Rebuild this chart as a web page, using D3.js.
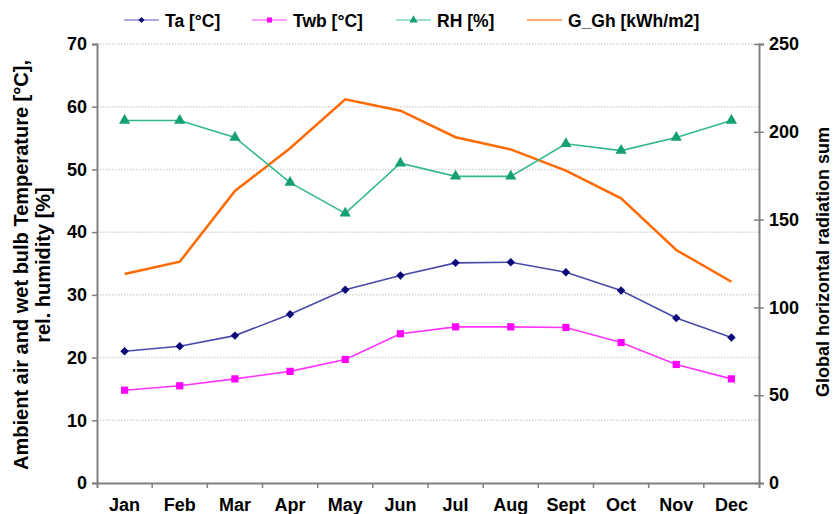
<!DOCTYPE html>
<html><head><meta charset="utf-8">
<script src="https://cdn.jsdelivr.net/npm/d3@7"></script>
<style>body{margin:0;background:#fff}svg{font-family:"Liberation Sans",Arial,sans-serif}</style>
</head><body><svg id="c" width="834" height="514"></svg>
<script>
const months = ["Jan","Feb","Mar","Apr","May","Jun","Jul","Aug","Sept","Oct","Nov","Dec"];
const ta  = [21.0,21.8,23.5,26.9,30.8,33.1,35.1,35.2,33.6,30.7,26.3,23.2];
const twb = [14.8,15.5,16.6,17.8,19.7,23.8,24.9,24.9,24.8,22.4,18.9,16.6];
const rh  = [57.8,57.8,55.1,47.9,43.0,51.0,48.9,48.9,54.1,53.0,55.1,57.8];
const ggh = [119.0,126.0,166.3,190.6,218.5,212.0,196.9,190.0,177.9,162.1,132.7,114.6];
const leftTicks = [0,10,20,30,40,50,60,70];
const rightTicks = [0,50,100,150,200,250];

const svg = d3.select("#c");
const L=97, R=759, T=44, B=483;
const x = d3.scaleBand().domain(months).range([L,R]);
const yL = d3.scaleLinear().domain([0,70]).range([B,T]);
const yR = d3.scaleLinear().domain([0,250]).range([B,T]);
const cx = m => x(m)+x.bandwidth()/2;

// gridlines
svg.append("g").selectAll("line").data(leftTicks.filter(d=>d>0)).join("line")
  .attr("x1",L).attr("x2",R).attr("y1",d=>yL(d)).attr("y2",d=>yL(d))
  .attr("stroke","#d4d4d4").attr("stroke-width",1.5).attr("stroke-dasharray","1.5,1.5");

// axes
const axL = svg.append("g").attr("transform",`translate(${L},0)`)
  .call(d3.axisLeft(yL).tickValues(leftTicks).tickSize(5).tickPadding(5));
const axR = svg.append("g").attr("transform",`translate(${R},0)`)
  .call(d3.axisRight(yR).tickValues(rightTicks).tickSize(5).tickPadding(5));
axR.selectAll(".tick line").attr("x1",-5);
const axB = svg.append("g").attr("transform",`translate(0,${B})`)
  .call(d3.axisBottom(x).tickSize(5).tickPadding(10));
axB.selectAll(".tick line").remove();
axB.selectAll("line.bt").data(months.slice(1)).join("line").attr("class","bt")
  .attr("x1",d=>x(d)).attr("x2",d=>x(d)).attr("y1",0).attr("y2",5).attr("stroke","#808080").attr("stroke-width",1.5);
[axL,axR,axB].forEach(a=>{
  a.select(".domain").attr("stroke","#808080").attr("stroke-width",2);
  a.selectAll(".tick line").attr("stroke","#808080").attr("stroke-width",1.5);
  a.selectAll("text").attr("font-size",18).attr("font-weight","bold").attr("fill","#000")
   .attr("font-family","'Liberation Sans',Arial,sans-serif");
});

// lines
const line = (arr,sc)=> d3.line().x((d,i)=>cx(months[i])).y(d=>sc(d))(arr);
svg.append("path").attr("d",line(ggh,yR)).attr("fill","none").attr("stroke","#ff6a00").attr("stroke-width",2.5);
svg.append("path").attr("d",line(rh,yL)).attr("fill","none").attr("stroke","#33b88a").attr("stroke-width",1.6);
svg.append("path").attr("d",line(ta,yL)).attr("fill","none").attr("stroke","#4a48a8").attr("stroke-width",1.6);
svg.append("path").attr("d",line(twb,yL)).attr("fill","none").attr("stroke","#ff33ff").attr("stroke-width",1.6);

// markers
svg.append("g").selectAll("path").data(rh).join("path")
  .attr("transform",(d,i)=>`translate(${cx(months[i])},${yL(d)})`)
  .attr("d",d3.symbol(d3.symbolTriangle,55)()).attr("fill","#14a072");
svg.append("g").selectAll("path").data(ta).join("path")
  .attr("transform",(d,i)=>`translate(${cx(months[i])},${yL(d)}) rotate(45)`)
  .attr("d",d3.symbol(d3.symbolSquare,36)()).attr("fill","#0b0a7a");
svg.append("g").selectAll("path").data(twb).join("path")
  .attr("transform",(d,i)=>`translate(${cx(months[i])},${yL(d)})`)
  .attr("d",d3.symbol(d3.symbolSquare,52)()).attr("fill","#ff00ff");

// axis titles
svg.append("text").attr("transform","translate(28,265) rotate(-90)").attr("text-anchor","middle")
  .attr("font-size",20).attr("font-weight","bold").text("Ambient air and wet bulb Temperature [°C],");
svg.append("text").attr("transform","translate(50,265) rotate(-90)").attr("text-anchor","middle")
  .attr("font-size",20).attr("font-weight","bold").text("rel. humidity [%]");
svg.append("text").attr("transform","translate(829,262) rotate(-90)").attr("text-anchor","middle")
  .attr("font-size",18).attr("font-weight","bold").text("Global horizontal radiation sum");

// legend
const legend = [
  {name:"Ta [°C]", c:"#a9a8e0", m:"#0b0a7a", sym:"diamond", x:124},
  {name:"Twb [°C]", c:"#ff9cff", m:"#ff00ff", sym:"square", x:252},
  {name:"RH [%]", c:"#9ee0c8", m:"#14a072", sym:"triangle", x:396},
  {name:"G_Gh [kWh/m2]", c:"#ffaa70", m:null, sym:null, x:527}
];
const lg = svg.append("g").selectAll("g").data(legend).join("g").attr("transform",d=>`translate(${d.x},20)`);
lg.append("line").attr("x1",0).attr("x2",35).attr("stroke",d=>d.c).attr("stroke-width",2);
lg.filter(d=>d.sym).append("path")
  .attr("transform",d=>`translate(17.5,0)`+(d.sym==="diamond"?" rotate(45)":""))
  .attr("d",d=>d.sym==="triangle"?d3.symbol(d3.symbolTriangle,30)():d3.symbol(d3.symbolSquare,d.sym==="diamond"?18:26)())
  .attr("fill",d=>d.m);
lg.append("text").attr("x",41).attr("y",7).attr("font-size",17.5).attr("font-weight","bold").text(d=>d.name);
</script></body></html>
